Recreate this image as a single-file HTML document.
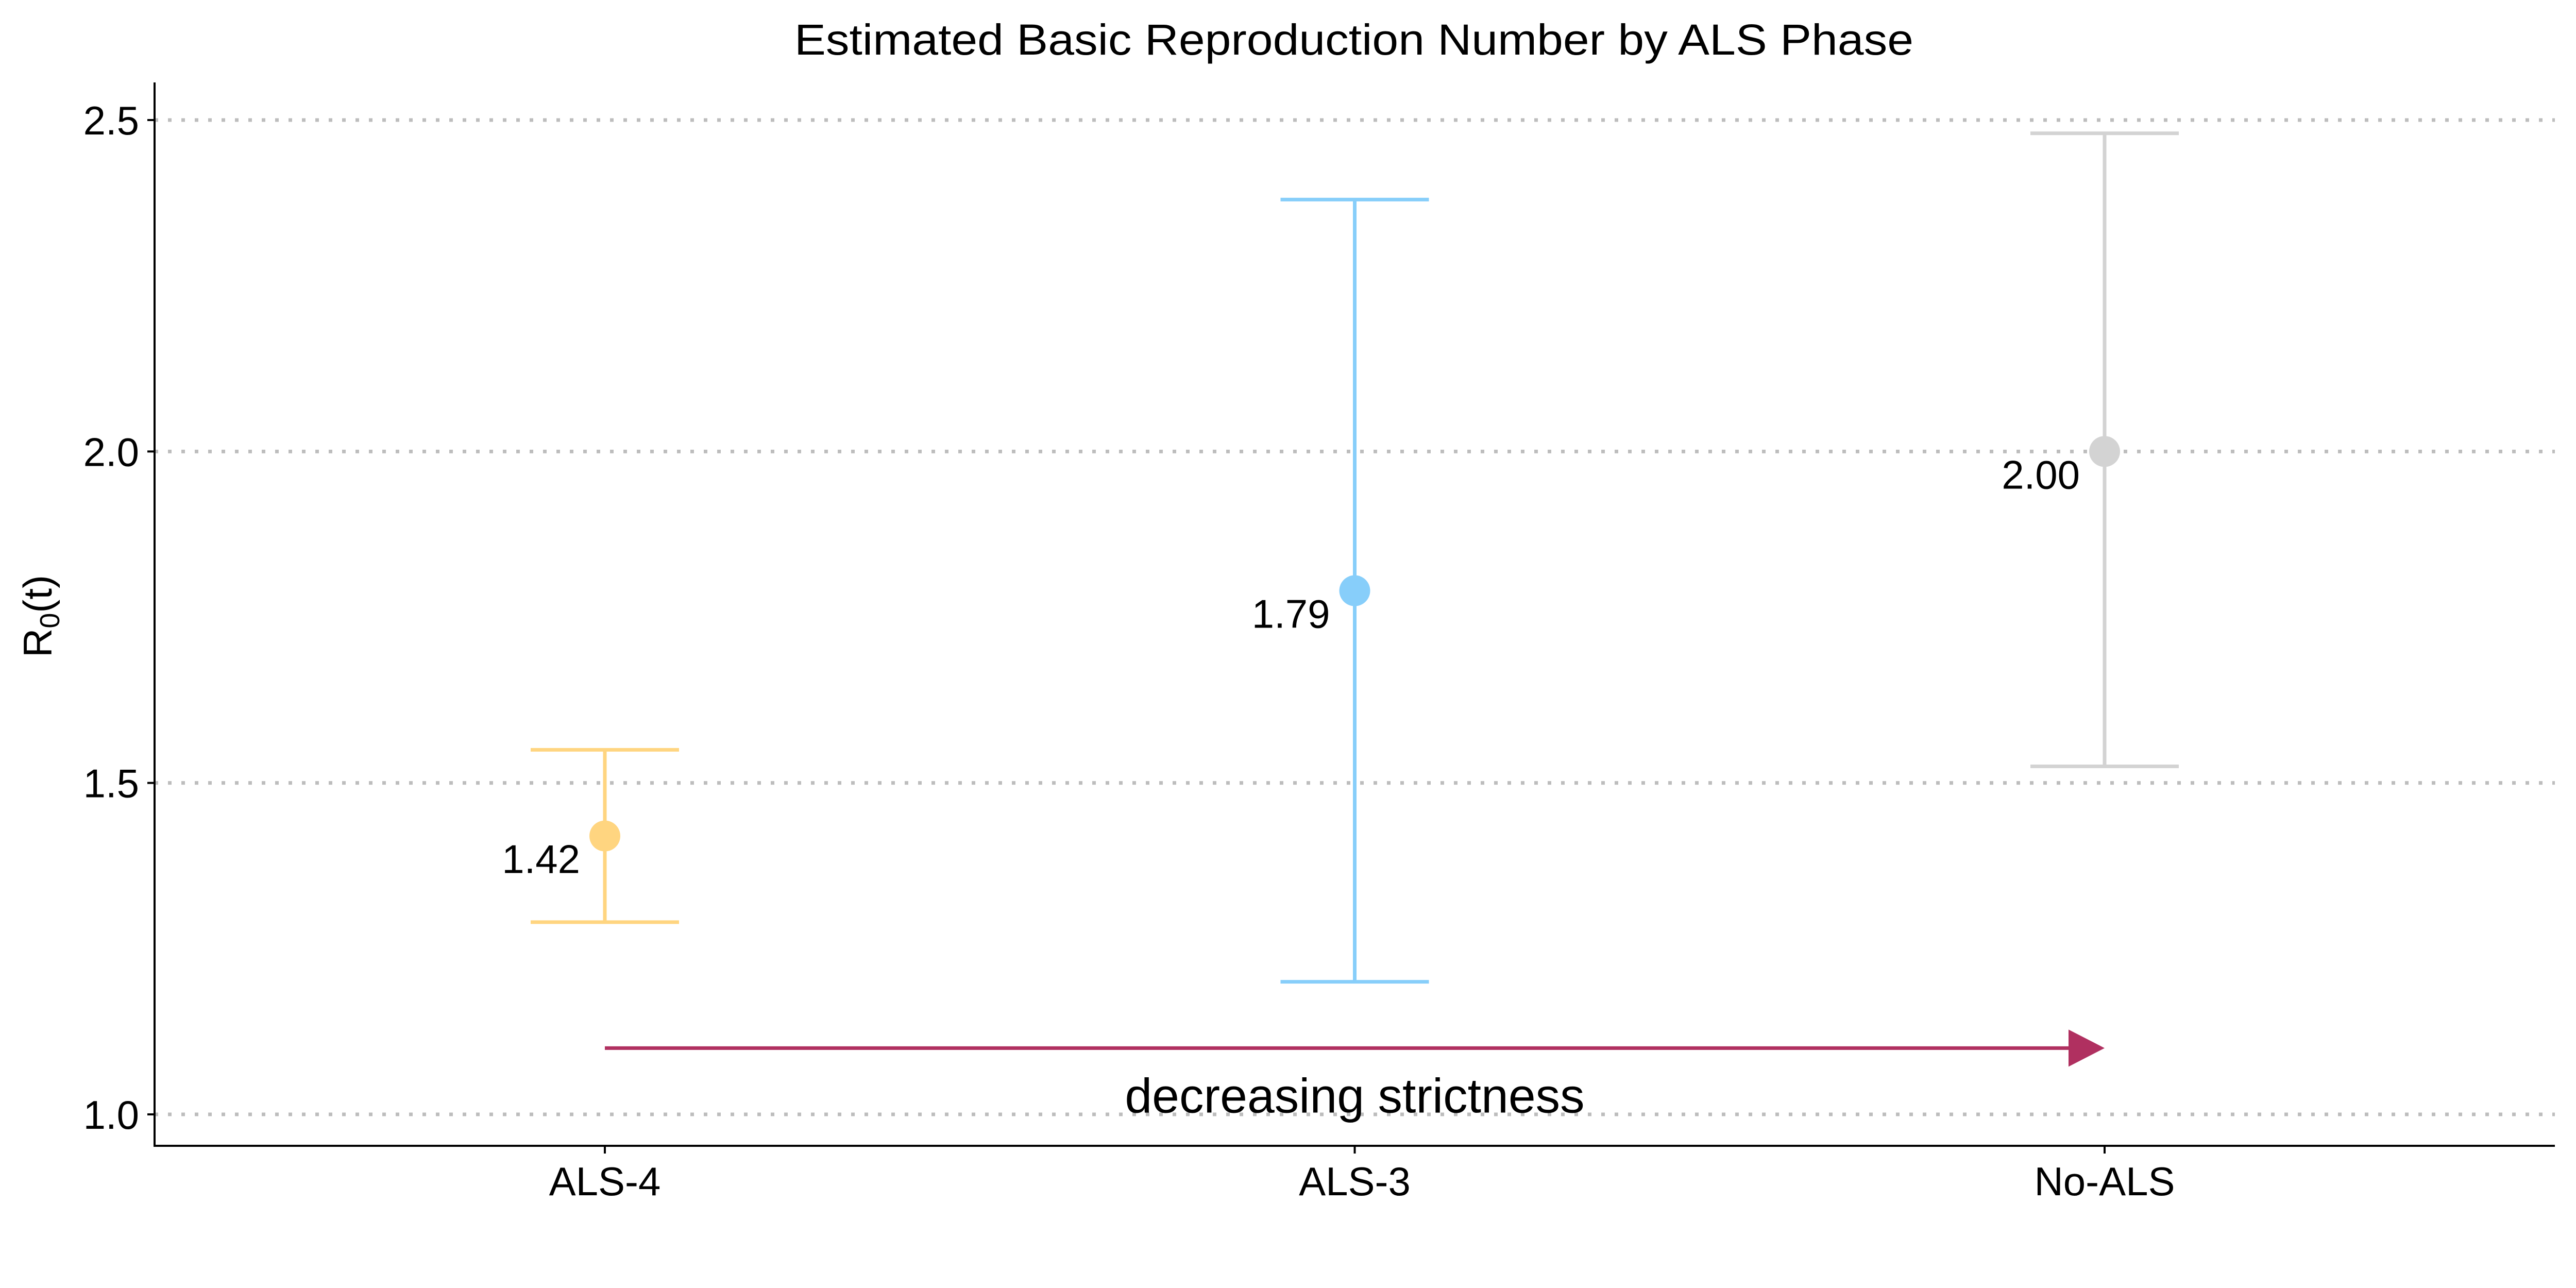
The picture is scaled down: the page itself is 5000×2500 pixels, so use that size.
<!DOCTYPE html>
<html><head><meta charset="utf-8"><style>
html,body{margin:0;padding:0;background:#fff}
svg{display:block}
text{font-family:"Liberation Sans",Arial,sans-serif;fill:#000}
</style></head><body>
<svg id="chart" width="5000" height="2500" viewBox="0 0 5000 2500" xmlns="http://www.w3.org/2000/svg">
<text x="2628" y="106" font-size="84" text-anchor="middle" textLength="2172" lengthAdjust="spacingAndGlyphs">Estimated Basic Reproduction Number by ALS Phase</text>
<text transform="translate(100,1196) rotate(-90)" font-size="78" text-anchor="middle">R<tspan font-size="54" dy="15">0</tspan><tspan dy="-15">(t)</tspan></text>
<g id="grid"></g><g id="marks"></g><g id="axes"></g>
</svg>
<script>
const categories = ["ALS-4", "ALS-3", "No-ALS"];
const estimates = [1.42, 1.79, 2.00];
const lowerBounds = [1.29, 1.20, 1.525];
const upperBounds = [1.55, 2.38, 2.48];
const pointLabels = ["1.42", "1.79", "2.00"];
const colors = ["#FFD580", "#87CEFA", "#D3D3D3"];
const yTicks = [1.0, 1.5, 2.0, 2.5];
const yTickLabels = ["1.0", "1.5", "2.0", "2.5"];
const arrowY = 1.10;

const NS = "http://www.w3.org/2000/svg";
const xLeft = 300, xRight = 4959, yBottom = 2224, yTop = 160;
function yScale(v){ return 2163 + (v - 1.0) * (233 - 2163) / 1.5; }
function xScale(i){ return 1174 + i * 1455.5; }
function mk(tag, attrs, parent){ const e=document.createElementNS(NS,tag); for(const k in attrs) e.setAttribute(k,attrs[k]); parent.appendChild(e); return e; }
const grid=document.getElementById('grid'), marks=document.getElementById('marks'), axes=document.getElementById('axes');

yTicks.forEach((t,i)=>{
  const y=yScale(t);
  const g=mk('line',{x1:xLeft,x2:xRight,y1:y,y2:y,stroke:'#bdbdbd','stroke-width':7,'stroke-dasharray':'7 19'},grid);
  
  
  const tk=mk('line',{x1:xLeft-14,x2:xLeft,y1:y,y2:y,stroke:'#000','stroke-width':4},axes);
  
  
  const lb=mk('text',{x:xLeft-30,y:y+28,'font-size':78,'text-anchor':'end'},axes);
  lb.textContent=yTickLabels[i];
  
  
});

const ay=yScale(arrowY), ax1=xScale(0), ax2=xScale(2);
const al=mk('line',{x1:ax1,x2:ax2-60,y1:ay,y2:ay,stroke:'#B03060','stroke-width':7},marks);


const ah=mk('polygon',{points:`${ax2},${ay} ${ax2-70},${ay-36} ${ax2-70},${ay+36}`,fill:'#B03060'},marks);


const at=mk('text',{x:xScale(1),y:ay+125,'font-size':95,'text-anchor':'middle'},marks);
at.textContent='decreasing strictness';



categories.forEach((c,i)=>{
  const x=xScale(i), c0=colors[i];
  const g=mk('g',{},marks);
  
  
  mk('line',{x1:x,x2:x,y1:yScale(lowerBounds[i]),y2:yScale(upperBounds[i]),stroke:c0,'stroke-width':7},g);
  mk('line',{x1:x-144,x2:x+144,y1:yScale(lowerBounds[i]),y2:yScale(lowerBounds[i]),stroke:c0,'stroke-width':7},g);
  mk('line',{x1:x-144,x2:x+144,y1:yScale(upperBounds[i]),y2:yScale(upperBounds[i]),stroke:c0,'stroke-width':7},g);
  const p=mk('circle',{cx:x,cy:yScale(estimates[i]),r:30,fill:c0},marks);
  
  
  const t=mk('text',{x:x-48,y:yScale(estimates[i])+72,'font-size':78,'text-anchor':'end'},marks);
  t.textContent=pointLabels[i];
  
  
  const tk=mk('line',{x1:x,x2:x,y1:yBottom,y2:yBottom+15,stroke:'#000','stroke-width':4},axes);
  
  
  const xl=mk('text',{x:x,y:yBottom+96,'font-size':78,'text-anchor':'middle'},axes);
  xl.textContent=c;
  
  
});

const ya=mk('line',{x1:xLeft,x2:xLeft,y1:yTop,y2:yBottom+2,stroke:'#000','stroke-width':4},axes);


const xa=mk('line',{x1:xLeft-2,x2:xRight,y1:yBottom,y2:yBottom,stroke:'#000','stroke-width':4},axes);


</script>
</body></html>
